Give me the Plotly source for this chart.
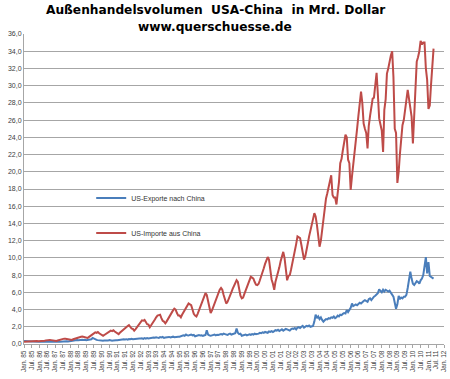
import pandas as pd
import plotly.graph_objects as go

# Monthly values, Jan 1985 .. May 2011 (Mrd. Dollar)
imports_china = [
    0.27,0.28,0.30,0.32,0.33,0.35,0.38,0.40,0.38,0.37,0.35,0.33,  # 1985
    0.33,0.30,0.32,0.35,0.38,0.42,0.45,0.48,0.47,0.45,0.42,0.40,  # 1986
    0.40,0.36,0.40,0.45,0.48,0.52,0.58,0.62,0.60,0.58,0.55,0.52,  # 1987
    0.52,0.48,0.55,0.60,0.66,0.72,0.80,0.88,0.85,0.86,0.82,0.78,  # 1988
    0.78,0.70,0.80,0.90,1.00,1.10,1.25,1.35,1.30,1.40,1.25,1.15,  # 1989
    1.10,0.95,1.05,1.15,1.25,1.35,1.45,1.55,1.50,1.60,1.45,1.35,  # 1990
    1.35,1.15,1.30,1.45,1.60,1.75,1.90,2.05,2.10,2.20,2.00,1.80,  # 1991
    1.75,1.55,1.70,1.90,2.10,2.30,2.55,2.75,2.70,2.80,2.55,2.30,  # 1992
    2.25,1.95,2.15,2.35,2.60,2.85,3.10,3.30,3.35,3.40,3.00,2.70,  # 1993
    2.60,2.40,2.60,2.90,3.20,3.50,3.70,3.90,4.10,4.00,3.60,3.30,  # 1994
    3.30,3.10,3.40,3.70,4.00,4.30,4.50,4.70,4.60,4.50,4.00,3.50,  # 1995
    3.30,3.20,3.50,3.90,4.30,4.80,5.20,5.60,5.90,5.70,5.00,4.20,  # 1996
    3.60,3.90,4.30,4.70,5.10,5.60,6.00,6.30,6.50,6.30,5.70,5.20,  # 1997
    4.70,4.90,5.20,5.60,6.00,6.40,6.80,7.10,7.40,7.20,6.40,5.60,  # 1998
    5.30,5.40,5.80,6.20,6.60,7.00,7.50,7.80,7.70,7.60,7.20,6.90,  # 1999
    6.85,7.00,7.40,7.80,8.30,8.80,9.30,9.70,10.1,9.80,8.60,7.50,  # 2000
    7.00,6.30,7.20,7.70,8.30,8.90,9.60,10.2,10.7,10.0,8.50,7.40,  # 2001
    7.90,8.00,8.60,9.30,10.0,10.8,11.6,12.5,12.4,12.3,11.5,10.8,  # 2002
    9.80,10.2,10.8,11.7,12.5,13.3,13.8,14.5,15.2,14.8,13.8,12.8,  # 2003
    11.3,12.0,13.2,14.4,15.5,16.9,17.5,18.2,18.8,19.6,17.3,17.0,  # 2004
    17.0,16.2,17.5,18.8,21.0,21.5,22.5,23.5,24.3,24.0,21.4,21.0,  # 2005
    17.9,19.5,21.0,22.5,24.1,25.0,26.5,28.0,29.3,28.0,25.6,25.0,  # 2006
    24.5,22.7,25.3,26.5,27.5,28.5,28.6,30.0,31.5,29.0,26.2,25.5,  # 2007
    24.8,22.3,27.2,28.4,31.4,32.0,33.0,33.5,34.0,31.0,25.0,24.5,  # 2008
    18.7,20.0,22.0,24.0,25.4,26.0,27.0,28.0,29.5,28.5,27.5,26.4,  # 2009
    23.3,27.0,30.0,32.8,33.3,34.0,35.2,34.8,35.0,35.0,32.0,30.7,  # 2010
    27.3,27.7,30.0,32.5,34.3,                                      # 2011
]

exports_china = [
    0.35,0.33,0.30,0.32,0.34,0.30,0.28,0.30,0.31,0.29,0.32,0.30,  # 1985
    0.27,0.25,0.26,0.24,0.26,0.25,0.27,0.24,0.26,0.28,0.25,0.27,  # 1986
    0.25,0.27,0.28,0.30,0.27,0.29,0.31,0.28,0.30,0.32,0.30,0.33,  # 1987
    0.32,0.35,0.38,0.40,0.42,0.45,0.43,0.47,0.45,0.48,0.46,0.50,  # 1988
    0.45,0.48,0.50,0.52,0.55,0.70,0.60,0.50,0.48,0.45,0.42,0.45,  # 1989
    0.40,0.38,0.42,0.40,0.38,0.42,0.45,0.40,0.38,0.42,0.40,0.44,  # 1990
    0.45,0.48,0.50,0.52,0.48,0.55,0.53,0.56,0.50,0.58,0.55,0.60,  # 1991
    0.55,0.58,0.60,0.62,0.60,0.65,0.63,0.66,0.60,0.68,0.62,0.70,  # 1992
    0.65,0.68,0.72,0.70,0.75,0.72,0.78,0.74,0.70,0.80,0.76,0.82,  # 1993
    0.70,0.75,0.80,0.78,0.82,0.76,0.80,0.85,0.78,0.82,0.88,0.85,  # 1994
    0.85,0.90,0.95,1.00,0.95,1.10,1.00,0.98,1.05,1.10,1.00,1.05,  # 1995
    0.90,0.95,1.00,1.05,0.98,1.02,0.95,1.00,1.05,1.60,1.10,1.00,  # 1996
    0.95,1.00,1.05,1.10,1.00,1.08,1.05,1.10,1.15,1.10,1.20,1.15,  # 1997
    1.10,1.05,1.15,1.20,1.10,1.15,1.20,1.25,1.80,1.30,1.15,1.20,  # 1998
    0.95,1.00,1.05,1.10,1.00,1.08,1.12,1.05,1.15,1.10,1.20,1.15,  # 1999
    1.15,1.20,1.30,1.25,1.35,1.30,1.40,1.35,1.30,1.45,1.40,1.50,  # 2000
    1.40,1.50,1.60,1.55,1.65,1.50,1.60,1.70,1.55,1.65,1.75,1.70,  # 2001
    1.60,1.55,1.70,1.80,1.75,1.85,1.70,1.90,1.95,1.85,2.00,2.10,  # 2002
    1.90,2.00,2.10,2.05,2.15,2.00,2.05,2.10,2.60,3.40,3.00,3.20,  # 2003
    2.90,3.10,2.80,2.60,2.75,2.90,2.85,3.00,2.95,3.10,3.05,3.20,  # 2004
    3.00,3.10,3.30,3.20,3.40,3.35,3.50,3.60,3.55,3.95,3.70,3.90,  # 2005
    4.20,4.70,4.40,4.50,4.60,4.50,4.70,4.80,4.70,4.90,5.00,5.10,  # 2006
    5.00,4.90,5.20,5.30,5.10,5.40,5.50,5.60,5.80,5.90,6.35,6.20,  # 2007
    6.00,6.30,6.10,6.30,6.20,6.10,6.20,5.90,5.70,5.50,4.80,4.10,  # 2008
    4.60,5.60,5.20,5.40,5.30,5.50,5.50,5.70,6.50,7.50,8.40,7.60,  # 2009
    7.00,6.85,7.10,7.30,7.20,7.00,7.40,7.60,8.00,9.00,10.1,8.20,  # 2010
    9.50,7.90,7.80,7.70,7.60,                                      # 2011
]

months = pd.date_range("1985-01-01", periods=len(imports_china), freq="MS")

series_names = ["US-Exporte nach China", "US-Importe aus China"]
title_lines = ["Außenhandelsvolumen  USA-China  in Mrd. Dollar", "www.querschuesse.de"]

fig = go.Figure()
fig.add_trace(go.Scatter(x=months, y=exports_china, mode="lines", name=series_names[0],
                         line=dict(color="#4A7EBB", width=2), legend="legend", showlegend=True))
fig.add_trace(go.Scatter(x=months, y=imports_china, mode="lines", name=series_names[1],
                         line=dict(color="#BE4B48", width=2), legend="legend2", showlegend=True))

title_font = dict(family="DejaVu Sans, Verdana, sans-serif", size=12.2, color="black")
fig.add_annotation(text="<b>" + title_lines[0] + "</b>", xref="paper", yref="paper",
                   x=0.455, y=1.077, xanchor="center", yanchor="middle",
                   showarrow=False, font=title_font)
fig.add_annotation(text="<b>" + title_lines[1] + "</b>", xref="paper", yref="paper",
                   x=0.455, y=1.0226, xanchor="center", yanchor="middle",
                   showarrow=False, font=title_font)

fig.update_layout(
    width=450, height=379,
    margin=dict(l=24, r=6, t=34, b=35, autoexpand=False),
    paper_bgcolor="white", plot_bgcolor="white",
    separators=",.",
    showlegend=True,
    font=dict(family="Liberation Sans, Arial, sans-serif", size=7, color="#333333"),
    legend=dict(x=0.16, y=0.471, xanchor="left", yanchor="middle",
                bgcolor="rgba(0,0,0,0)", font=dict(size=7, color="#333333"), itemwidth=30),
    legend2=dict(x=0.16, y=0.358, xanchor="left", yanchor="middle",
                 bgcolor="rgba(0,0,0,0)", font=dict(size=7, color="#333333"), itemwidth=30),
)

fig.update_yaxes(range=[0, 36], dtick=2, tickformat=".1f", automargin=False,
                 showgrid=True, gridcolor="#A6A6A6", gridwidth=1,
                 showline=True, linecolor="#A6A6A6", linewidth=1,
                 zeroline=False, ticks="", tickfont=dict(size=7, color="#404040"))
fig.update_xaxes(type="date", range=["1985-01-01", "2012-01-01"], automargin=False,
                 tick0="1985-01-01", dtick="M6", tickformat="%b. %y", tickangle=-90,
                 showgrid=False, showline=True, linecolor="#A6A6A6", linewidth=1,
                 ticks="outside", ticklen=3, tickcolor="#A6A6A6",
                 tickfont=dict(size=6.5, color="#404040"))

fig.write_html("out.html", config={"displayModeBar": False},
               post_script="document.body.style.margin='0';")
